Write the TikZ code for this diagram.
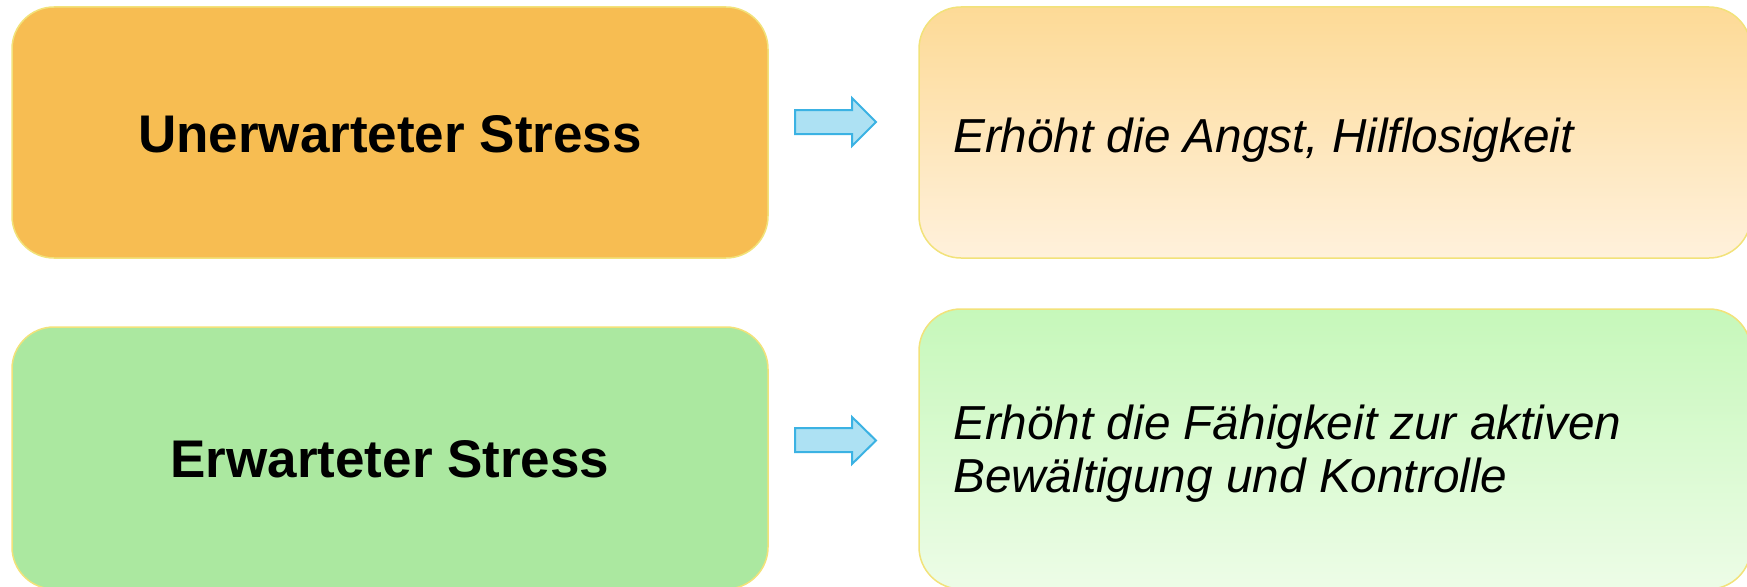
\documentclass[tikz,border=0pt]{standalone}
\usepackage{fontspec}
\setmainfont{Liberation Sans}
\definecolor{orangebox}{HTML}{F7BD52}
\definecolor{greenbox}{HTML}{ABE8A0}
\definecolor{boxedge}{HTML}{F2E27A}
\definecolor{otop}{HTML}{FDDA96}
\definecolor{obot}{HTML}{FFF1DC}
\definecolor{gtop}{HTML}{C6F8BA}
\definecolor{gbot}{HTML}{EDFCE7}
\definecolor{arrowfill}{HTML}{ADE1F3}
\definecolor{arrowedge}{HTML}{3BB2E3}
\begin{document}
\begin{tikzpicture}[x=1pt,y=-1pt,
  lbox/.style={draw=boxedge, line width=1.5pt, rounded corners=42pt,
    minimum width=756pt, inner sep=0pt},
  ltext/.style={anchor=base, inner sep=0pt, font=\fontsize{53}{60}\selectfont\bfseries},
  rbox/.style={draw=boxedge, line width=1.5pt, rounded corners=42pt,
    minimum width=832pt, inner sep=0pt, shading=axis, shading angle=15},
  rtext/.style={anchor=base west, inner sep=0pt, font=\fontsize{47.7}{54}\selectfont\itshape},
  blockarrow/.style={draw=arrowedge, fill=arrowfill, line width=2pt, line join=miter}
]
\useasboundingbox (0,0) rectangle (1747,586);
% row 1
\node[lbox, fill=orangebox, minimum height=251pt] (ul) at (390,132.5) {};
\node[ltext] (ult) at (390,152) {Unerwarteter Stress};
\node[rbox, top color=otop, bottom color=obot, minimum height=251pt] (ur) at (1335,132.5) {};
\node[rtext] (urt) at (953,152) {Erhöht die Angst, Hilflosigkeit};
% row 2
\node[lbox, fill=greenbox, minimum height=262pt] (ll) at (390,458) {};
\node[ltext] (llt) at (390,477) {Erwarteter Stress};
\node[rbox, top color=gtop, bottom color=gbot, minimum height=280pt] (lr) at (1335,449) {};
\node[rtext] (lrt1) at (953,439) {Erhöht die Fähigkeit zur aktiven};
\node[rtext] (lrt2) at (953,492) {Bewältigung und Kontrolle};
% arrows
\draw[blockarrow] (795,110) -- (852,110) -- (852,98) -- (876,122) -- (852,146) -- (852,134) -- (795,134) -- cycle;
\draw[blockarrow] (795,428) -- (852,428) -- (852,417) -- (876,440.5) -- (852,464) -- (852,452) -- (795,452) -- cycle;
\end{tikzpicture}
\end{document}
